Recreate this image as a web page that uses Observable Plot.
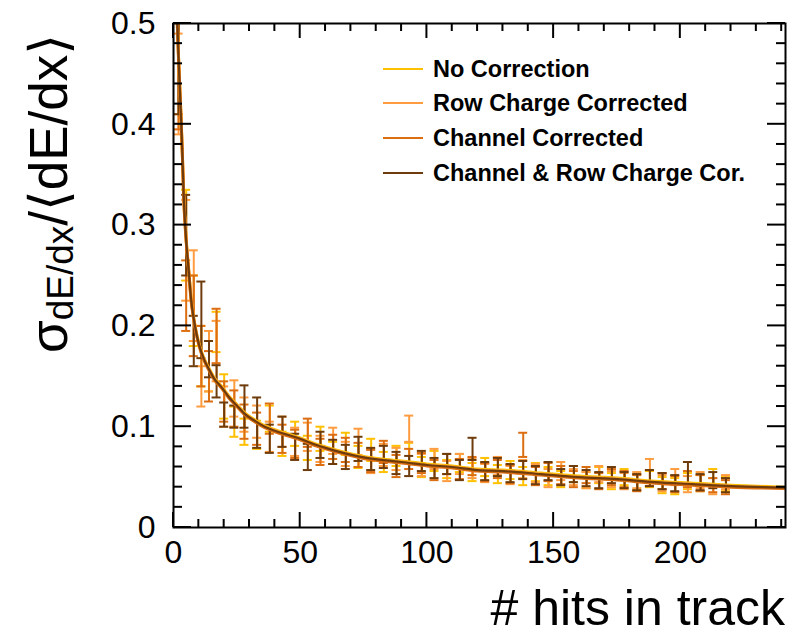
<!DOCTYPE html>
<html>
<head>
<meta charset="utf-8">
<script src="https://cdn.jsdelivr.net/npm/d3@7"></script>
<script src="https://cdn.jsdelivr.net/npm/@observablehq/plot@0.6"></script>
<style>
  html, body { margin: 0; padding: 0; background: white; }
  #chart { width: 802px; height: 639px; }
</style>
</head>
<body>
<div id="chart"></div>
<script>
// ---- data ----
const seriesNames = ["No Correction", "Row Charge Corrected", "Channel Corrected", "Channel & Row Charge Cor."];
const seriesColors = ["#ffc000", "#ff9c40", "#dc6e12", "#6e3c0c"];

const hits = [2, 5, 8, 11, 14, 17, 20, 24, 28, 33, 38, 43, 48, 53, 58, 63, 68, 73, 78, 83, 88, 93, 98, 103, 108, 113, 118, 123, 128, 133, 138, 143, 148, 153, 158, 163, 168, 173, 178, 183, 188, 193, 198, 203, 208, 213, 218];

const valNoCorr = [0.47, 0.29, 0.215, 0.17, 0.16, 0.194, 0.13, 0.105, 0.095, 0.092, 0.108, 0.083, 0.093, 0.079, 0.088, 0.074, 0.083, 0.070, 0.077, 0.065, 0.071, 0.074, 0.060, 0.066, 0.058, 0.064, 0.055, 0.060, 0.053, 0.057, 0.051, 0.055, 0.051, 0.048, 0.053, 0.047, 0.052, 0.046, 0.050, 0.045, 0.048, 0.042, 0.041, 0.046, 0.044, 0.050, 0.043];
const errNoCorr = [0.06, 0.045, 0.035, 0.03, 0.025, 0.02, 0.022, 0.015, 0.013, 0.014, 0.013, 0.012, 0.012, 0.012, 0.012, 0.011, 0.011, 0.011, 0.011, 0.010, 0.010, 0.010, 0.010, 0.010, 0.009, 0.009, 0.009, 0.009, 0.009, 0.009, 0.009, 0.009, 0.009, 0.008, 0.008, 0.008, 0.008, 0.008, 0.008, 0.008, 0.008, 0.008, 0.008, 0.008, 0.008, 0.008, 0.007];

const valRow = [0.44, 0.275, 0.23, 0.14, 0.165, 0.175, 0.12, 0.128, 0.112, 0.105, 0.09, 0.095, 0.085, 0.09, 0.078, 0.086, 0.073, 0.085, 0.066, 0.072, 0.068, 0.098, 0.062, 0.068, 0.056, 0.063, 0.059, 0.054, 0.061, 0.052, 0.058, 0.054, 0.049, 0.056, 0.050, 0.047, 0.053, 0.048, 0.046, 0.047, 0.057, 0.044, 0.050, 0.043, 0.047, 0.041, 0.045];
const errRow = [0.05, 0.05, 0.045, 0.02, 0.03, 0.03, 0.02, 0.018, 0.017, 0.016, 0.015, 0.015, 0.014, 0.014, 0.013, 0.013, 0.012, 0.013, 0.012, 0.011, 0.011, 0.013, 0.011, 0.010, 0.010, 0.010, 0.010, 0.009, 0.009, 0.009, 0.009, 0.009, 0.009, 0.009, 0.008, 0.008, 0.008, 0.008, 0.008, 0.008, 0.011, 0.008, 0.008, 0.008, 0.008, 0.008, 0.007];

const valChan = [0.45, 0.23, 0.21, 0.17, 0.15, 0.19, 0.125, 0.118, 0.105, 0.098, 0.108, 0.088, 0.083, 0.094, 0.075, 0.080, 0.077, 0.072, 0.066, 0.075, 0.061, 0.068, 0.064, 0.057, 0.063, 0.058, 0.061, 0.055, 0.058, 0.053, 0.082, 0.051, 0.055, 0.052, 0.048, 0.052, 0.046, 0.050, 0.048, 0.044, 0.049, 0.046, 0.043, 0.048, 0.044, 0.042, 0.040];
const errChan = [0.055, 0.035, 0.04, 0.03, 0.025, 0.027, 0.02, 0.018, 0.017, 0.016, 0.015, 0.014, 0.014, 0.014, 0.013, 0.012, 0.012, 0.012, 0.011, 0.011, 0.011, 0.010, 0.010, 0.010, 0.010, 0.010, 0.009, 0.009, 0.009, 0.009, 0.012, 0.009, 0.009, 0.009, 0.008, 0.008, 0.008, 0.008, 0.008, 0.008, 0.008, 0.008, 0.008, 0.008, 0.008, 0.007, 0.007];

const valBoth = [0.46, 0.29, 0.185, 0.206, 0.167, 0.145, 0.112, 0.11, 0.12, 0.104, 0.088, 0.095, 0.08, 0.07, 0.082, 0.075, 0.07, 0.078, 0.068, 0.07, 0.064, 0.061, 0.066, 0.059, 0.063, 0.057, 0.078, 0.056, 0.060, 0.054, 0.057, 0.052, 0.056, 0.050, 0.053, 0.049, 0.047, 0.052, 0.047, 0.045, 0.049, 0.046, 0.044, 0.054, 0.045, 0.047, 0.042];
const errBoth = [0.05, 0.04, 0.025, 0.038, 0.018, 0.016, 0.012, 0.011, 0.021, 0.025, 0.014, 0.015, 0.013, 0.013, 0.013, 0.012, 0.012, 0.012, 0.011, 0.011, 0.011, 0.010, 0.010, 0.010, 0.010, 0.010, 0.011, 0.009, 0.009, 0.009, 0.009, 0.009, 0.009, 0.008, 0.008, 0.008, 0.008, 0.008, 0.008, 0.008, 0.008, 0.008, 0.008, 0.011, 0.008, 0.008, 0.007];

// fitted curves
const fitHits = [1.5, 2, 2.5, 3, 3.5, 4, 5, 6, 7, 8, 9, 10, 12, 14, 16, 19, 22, 25, 28, 32, 36, 40, 45, 50, 55, 60, 67, 74, 82, 90, 100, 110, 120, 130, 145, 160, 175, 190, 205, 220, 241];
const fitNoCorr = [0.50, 0.466, 0.436, 0.406, 0.371, 0.331, 0.286, 0.256, 0.226, 0.208, 0.194, 0.183, 0.168, 0.158, 0.149, 0.140, 0.130, 0.122, 0.114, 0.107, 0.101, 0.097, 0.093, 0.089, 0.084, 0.080, 0.075, 0.071, 0.068, 0.066, 0.063, 0.061, 0.058, 0.057, 0.054, 0.051, 0.049, 0.046, 0.044, 0.042, 0.040];
const fitRow = [0.50, 0.465, 0.435, 0.405, 0.370, 0.330, 0.285, 0.255, 0.225, 0.207, 0.193, 0.182, 0.167, 0.157, 0.148, 0.139, 0.129, 0.121, 0.113, 0.106, 0.100, 0.096, 0.092, 0.088, 0.083, 0.079, 0.074, 0.070, 0.067, 0.065, 0.062, 0.060, 0.057, 0.056, 0.053, 0.050, 0.048, 0.045, 0.043, 0.041, 0.0395];
const fitChan = [0.50, 0.464, 0.434, 0.404, 0.369, 0.329, 0.284, 0.254, 0.224, 0.206, 0.192, 0.181, 0.166, 0.156, 0.147, 0.138, 0.128, 0.120, 0.112, 0.105, 0.099, 0.095, 0.091, 0.087, 0.082, 0.078, 0.073, 0.069, 0.066, 0.064, 0.061, 0.059, 0.056, 0.055, 0.052, 0.049, 0.047, 0.044, 0.042, 0.040, 0.0388];
const fitBoth = [0.50, 0.465, 0.435, 0.405, 0.370, 0.330, 0.285, 0.255, 0.225, 0.207, 0.193, 0.182, 0.167, 0.157, 0.148, 0.139, 0.129, 0.121, 0.113, 0.106, 0.100, 0.096, 0.092, 0.088, 0.083, 0.079, 0.074, 0.070, 0.067, 0.065, 0.062, 0.060, 0.057, 0.056, 0.053, 0.050, 0.048, 0.045, 0.043, 0.041, 0.0395];

const xTicks = [0, 50, 100, 150, 200];
const yTicks = [0, 0.1, 0.2, 0.3, 0.4, 0.5];

// ---- tidy tables ----
const vals = [valNoCorr, valRow, valChan, valBoth];
const errs = [errNoCorr, errRow, errChan, errBoth];
const fits = [fitNoCorr, fitRow, fitChan, fitBoth];

const points = [];
seriesNames.forEach((s, k) => hits.forEach((h, i) => points.push({s, k, x: h, y: vals[k][i], lo: vals[k][i] - errs[k][i], hi: vals[k][i] + errs[k][i]})));
const curves = [];
seriesNames.forEach((s, k) => fitHits.forEach((h, i) => curves.push({s, k, x: h, y: fits[k][i]})));

const marks = [];
seriesNames.forEach((s, k) => {
  const pts = points.filter(d => d.k === k);
  marks.push(Plot.ruleX(pts, {x: "x", y1: "lo", y2: "hi", stroke: seriesColors[k], strokeWidth: 2, clip: true}));
  marks.push(Plot.ruleY(pts, {y: "hi", x1: "x", x2: "x", insetLeft: -4.5, insetRight: -4.5, stroke: seriesColors[k], strokeWidth: 2, clip: true}));
  marks.push(Plot.ruleY(pts, {y: "lo", x1: "x", x2: "x", insetLeft: -4.5, insetRight: -4.5, stroke: seriesColors[k], strokeWidth: 2, clip: true}));
});
seriesNames.forEach((s, k) => {
  marks.push(Plot.line(curves.filter(d => d.k === k), {x: "x", y: "y", stroke: seriesColors[k], strokeWidth: k === 3 ? 2.2 : 3, curve: "monotone-x", clip: true}));
});

const chart = Plot.plot({
  width: 802,
  height: 639,
  marginLeft: 173,
  marginRight: 17,
  marginTop: 23,
  marginBottom: 112,
  x: {domain: [0, 241.5]},
  y: {domain: [0, 0.5]},
  style: {fontFamily: "'Liberation Sans', Arial, Helvetica, sans-serif", background: "white", color: "black"},
  marks: [
    ...marks,
    Plot.frame({stroke: "black", strokeWidth: 2}),
    Plot.axisX({ticks: xTicks, tickSize: 0, tickPadding: 13, fontSize: 32, tickFormat: d3.format("~g"), label: null}),
    Plot.axisY({ticks: yTicks, tickSize: 0, tickPadding: 18, fontSize: 32, tickFormat: d3.format("~g"), label: null})
  ]
});
document.getElementById("chart").appendChild(chart);

// ---- inward ticks on all four sides, placed through the plot scales ----
const sx = chart.scale("x"), sy = chart.scale("y");
const svg = d3.select(chart);
const X0 = sx.apply(0), X1 = sx.apply(241.5), Y0 = sy.apply(0), Y1 = sy.apply(0.5);
const tg = svg.append("g").attr("stroke", "black").attr("stroke-width", 2);
for (let v = 0; v <= 240; v += 10) {
  const major = v % 50 === 0, len = major ? 15 : 8, px = sx.apply(v);
  tg.append("line").attr("x1", px).attr("x2", px).attr("y1", Y0).attr("y2", Y0 - len);
  tg.append("line").attr("x1", px).attr("x2", px).attr("y1", Y1).attr("y2", Y1 + len);
}
for (let i = 0; i <= 25; i++) {
  const v = i * 0.02, major = i % 5 === 0, len = major ? 18 : 9, py = sy.apply(v);
  tg.append("line").attr("x1", X0).attr("x2", X0 + len).attr("y1", py).attr("y2", py);
  tg.append("line").attr("x1", X1).attr("x2", X1 - len).attr("y1", py).attr("y2", py);
}

// ---- axis titles ----
const font = "'Liberation Sans', Arial, Helvetica, 'DejaVu Sans', sans-serif";
svg.append("text")
  .attr("x", 785).attr("y", 625)
  .attr("text-anchor", "end")
  .attr("font-family", font).attr("font-size", 50).attr("fill", "black")
  .text("# hits in track");

const yt = svg.append("text")
  .attr("transform", "translate(67,353) rotate(-90)")
  .attr("text-anchor", "start")
  .attr("font-family", font).attr("font-size", 53).attr("fill", "black");
yt.append("tspan").text("σ");
yt.append("tspan").attr("font-size", 37).attr("dy", 6).text("dE/dx");
yt.append("tspan").attr("dy", -6).text("/⟨dE/dx⟩");

// ---- legend ----
const lg = svg.append("g").attr("text-anchor", "start");
const legY = [69, 103, 138, 173];
seriesNames.forEach((s, k) => {
  lg.append("line").attr("x1", 383).attr("x2", 423).attr("y1", legY[k]).attr("y2", legY[k])
    .attr("stroke", seriesColors[k]).attr("stroke-width", 2);
  lg.append("text").attr("x", 433).attr("y", legY[k] + 8)
    .attr("text-anchor", "start")
    .attr("font-family", font).attr("font-weight", "bold").attr("font-size", 23.5).attr("fill", "black")
    .text(s);
});
</script>
</body>
</html>
